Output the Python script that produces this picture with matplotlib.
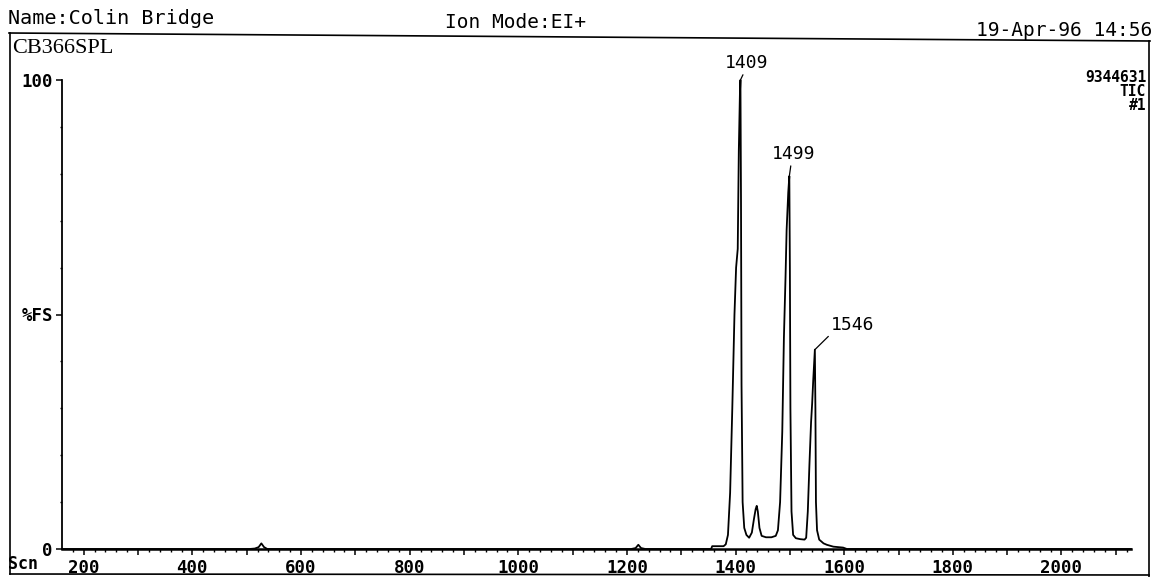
import matplotlib
matplotlib.use("Agg")
import matplotlib.pyplot as plt
from matplotlib.lines import Line2D

W, H = 1154, 577
DPI = 100

# ---- chromatogram data: scan number vs intensity (% of full scale) ----
scan = [160, 505, 515, 522, 527, 532, 538, 1208, 1216, 1221, 1226, 1234,
        1355, 1357, 1378, 1382, 1386, 1390, 1394, 1398, 1401, 1404, 1406,
        1408, 1409, 1410, 1411, 1413, 1416, 1420, 1425, 1430, 1434, 1437,
        1439, 1441, 1444, 1448, 1456, 1466, 1474, 1478, 1482, 1486, 1489,
        1492, 1494, 1497, 1499, 1500, 1501, 1503, 1506, 1511, 1519, 1527,
        1530, 1533, 1536, 1539, 1541, 1543, 1546, 1547, 1548, 1550, 1554,
        1562, 1568, 1580, 1598, 1605, 2128]
intensity = [0.0, 0.0, 0.1, 0.4, 1.2, 0.4, 0.0, 0.0, 0.2, 0.9, 0.2, 0.0,
             0.0, 0.6, 0.6, 1.0, 3.0, 12.0, 30.0, 50.0, 60.0, 64.0, 85.0,
             97.0, 100.0, 75.0, 35.0, 10.0, 4.5, 3.0, 2.4, 3.5, 6.5, 8.5,
             9.2, 8.0, 4.5, 2.8, 2.5, 2.5, 2.8, 4.0, 10.0, 25.0, 45.0,
             58.0, 68.0, 76.0, 79.5, 60.0, 30.0, 8.0, 3.0, 2.3, 2.1, 2.0,
             2.4, 8.0, 18.0, 27.0, 31.0, 36.0, 42.5, 30.0, 10.0, 4.0, 2.0,
             1.2, 0.9, 0.5, 0.3, 0.0, 0.0]

# labelled peaks (apex scan, apex intensity)
peak_scans = [1409, 1499, 1546]
peak_heights = [100.0, 79.5, 42.5]

x_range = (160, 2128)
x_major = list(range(200, 2101, 100))
x_tick_labels = ["200", "400", "600", "800", "1000", "1200", "1400",
                 "1600", "1800", "2000"]
y_ticks = [0, 50, 100]
y_tick_labels = ["0", "%FS", "100"]

# header / annotation texts
sample_name = "Name:Colin Bridge"
ion_mode = "Ion Mode:EI+"
timestamp = "19-Apr-96 14:56"
sample_id = "CB366SPL"
full_scale = "9344631"
trace_type = "TIC"
trace_no = "#1"

MONO = ["DejaVu Sans Mono"]


def fx(x):
    return x / W


def fy(y):
    return 1 - y / H


fig = plt.figure(figsize=(W / DPI, H / DPI), dpi=DPI)
fig.patch.set_facecolor("white")

# page frame lines
frame_kw = dict(color="black", lw=1.2, transform=fig.transFigure)
fig.add_artist(Line2D([fx(9), fx(1150)], [fy(33), fy(41)], **frame_kw))
fig.add_artist(Line2D([fx(10), fx(10)], [fy(33), fy(574)], **frame_kw))
fig.add_artist(Line2D([fx(1149), fx(1149)], [fy(41), fy(577)], **frame_kw))
fig.add_artist(Line2D([fx(10), fx(1149)], [fy(574), fy(575)], **frame_kw))

# header texts
fig.text(fx(8), fy(24), sample_name, family=MONO, fontsize=14.5,
         ha="left", va="baseline")
fig.text(fx(445), fy(28), ion_mode, family=MONO, fontsize=14,
         ha="left", va="baseline")
fig.text(fx(1152), fy(36), timestamp, family=MONO, fontsize=14,
         ha="right", va="baseline")
fig.text(fx(12), fy(53), sample_id, family=["Liberation Serif"],
         fontsize=16, ha="left", va="baseline")

fig.text(fx(1146), fy(77), full_scale, family=MONO, fontsize=10.5,
         fontweight="bold", ha="right", va="center")
fig.text(fx(1146), fy(91), trace_type, family=MONO, fontsize=10.5,
         fontweight="bold", ha="right", va="center")
fig.text(fx(1146), fy(105), trace_no, family=MONO, fontsize=10.5,
         fontweight="bold", ha="right", va="center")
fig.text(fx(8), fy(564), "Scn", family=MONO, fontsize=12,
         fontweight="bold", ha="left", va="center")

# ---- plot area ----
left, right, top, bottom = 62, 1131, 80, 549
ax = fig.add_axes([fx(left), fy(bottom), (right - left) / W,
                   (bottom - top) / H])
ax.set_facecolor("none")
ax.plot(scan, intensity, color="black", lw=1.3, clip_on=False)
ax.set_xlim(*x_range)
ax.set_ylim(0, 100)

for s in ("top", "right"):
    ax.spines[s].set_visible(False)
ax.spines["left"].set_linewidth(1.3)
ax.spines["bottom"].set_linewidth(1.8)

ax.set_xticks(x_major)
ax.set_xticklabels([str(v) if str(v) in x_tick_labels else "" for v in x_major])
ax.set_xticks(range(180, 2128, 20), minor=True)
ax.set_yticks(y_ticks)
ax.set_yticklabels(y_tick_labels)
ax.set_yticks(range(10, 100, 10), minor=True)

ax.tick_params(axis="x", which="major", direction="out", length=4.5,
               width=1.1, pad=3, labelsize=12.5)
ax.tick_params(axis="x", which="minor", direction="out", length=2.2,
               width=1.0)
ax.tick_params(axis="y", which="major", direction="out", length=4.5,
               width=1.1, pad=2, labelsize=12.5)
ax.tick_params(axis="y", which="minor", direction="out", length=1.8,
               width=1.0)
for lab in ax.get_xticklabels() + ax.get_yticklabels():
    lab.set_family(MONO)
    lab.set_fontweight("bold")

# peak labels
offsets = [(6, 8), (4, 13), (38, 16)]
for s, h, (dx, dy) in zip(peak_scans, peak_heights, offsets):
    ax.annotate(str(s), xy=(s, h), xytext=(dx, dy),
                textcoords="offset pixels", ha="center", va="bottom",
                family=MONO, fontsize=13, annotation_clip=False,
                arrowprops=dict(arrowstyle="-", lw=0.9, color="black",
                                shrinkA=0, shrinkB=0,
                                relpos=(0.0, 0.0) if dx > 20 else (0.45, 0.0)))

fig.savefig("out.png", dpi=DPI, facecolor="white")
